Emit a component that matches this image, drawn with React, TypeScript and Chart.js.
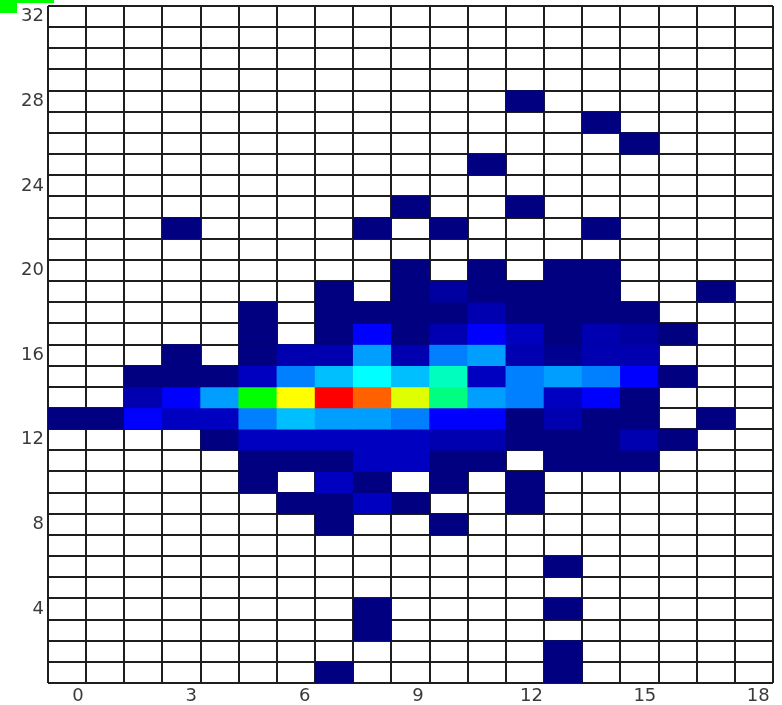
import React, { useEffect, useRef } from 'react';
import { Chart, registerables } from 'chart.js';

Chart.register(...registerables);

// x bins (19 columns) and y levels (32 rows, listed top to bottom)
const xBins = ['0', '1', '2', '3', '4', '5', '6', '7', '8', '9', '10', '11', '12', '13', '14', '15', '16', '17', '18'];
const rowLevels = [32, 31, 30, 29, 28, 27, 26, 25, 24, 23, 22, 21, 20, 19, 18, 17, 16, 15, 14, 13, 12, 11, 10, 9, 8, 7, 6, 5, 4, 3, 2, 1];

// axis tick labels
const xTickValues = [0, 3, 6, 9, 12, 15, 18];
const yTickValues = [4, 8, 12, 16, 20, 24, 28, 32];

// axis ranges
const X_MIN = -0.79;
const X_MAX = 18.39;
const Y_MIN = 0.5;
const Y_MAX = 32.5;
const VALUE_MAX = 41;

// cell values, one row per y level (same order as rowLevels), 19 columns each
const cellValues = [
  [0, 0, 0, 0, 0, 0, 0, 0, 0, 0, 0, 0, 0, 0, 0, 0, 0, 0, 0], // 32
  [0, 0, 0, 0, 0, 0, 0, 0, 0, 0, 0, 0, 0, 0, 0, 0, 0, 0, 0], // 31
  [0, 0, 0, 0, 0, 0, 0, 0, 0, 0, 0, 0, 0, 0, 0, 0, 0, 0, 0], // 30
  [0, 0, 0, 0, 0, 0, 0, 0, 0, 0, 0, 0, 0, 0, 0, 0, 0, 0, 0], // 29
  [0, 0, 0, 0, 0, 0, 0, 0, 0, 0, 0, 0, 1, 0, 0, 0, 0, 0, 0], // 28
  [0, 0, 0, 0, 0, 0, 0, 0, 0, 0, 0, 0, 0, 0, 1, 0, 0, 0, 0], // 27
  [0, 0, 0, 0, 0, 0, 0, 0, 0, 0, 0, 0, 0, 0, 0, 1, 0, 0, 0], // 26
  [0, 0, 0, 0, 0, 0, 0, 0, 0, 0, 0, 1, 0, 0, 0, 0, 0, 0, 0], // 25
  [0, 0, 0, 0, 0, 0, 0, 0, 0, 0, 0, 0, 0, 0, 0, 0, 0, 0, 0], // 24
  [0, 0, 0, 0, 0, 0, 0, 0, 0, 1, 0, 0, 1, 0, 0, 0, 0, 0, 0], // 23
  [0, 0, 0, 1, 0, 0, 0, 0, 1, 0, 1, 0, 0, 0, 1, 0, 0, 0, 0], // 22
  [0, 0, 0, 0, 0, 0, 0, 0, 0, 0, 0, 0, 0, 0, 0, 0, 0, 0, 0], // 21
  [0, 0, 0, 0, 0, 0, 0, 0, 0, 1, 0, 1, 0, 1, 1, 0, 0, 0, 0], // 20
  [0, 0, 0, 0, 0, 0, 0, 1, 0, 1, 3, 1, 1, 1, 1, 0, 0, 1, 0], // 19
  [0, 0, 0, 0, 0, 1, 0, 1, 1, 1, 1, 4, 1, 1, 1, 1, 0, 0, 0], // 18
  [0, 0, 0, 0, 0, 1, 0, 1, 9, 1, 4, 9, 5, 1, 4, 3, 1, 0, 0], // 17
  [0, 0, 0, 1, 0, 1, 4, 4, 14, 4, 13, 14, 4, 2, 4, 4, 0, 0, 0], // 16
  [0, 0, 1, 1, 1, 5, 13, 15, 17, 15, 19, 5, 13, 14, 13, 9, 1, 0, 0], // 15
  [0, 0, 4, 9, 14, 25, 33, 41, 38, 32, 21, 14, 13, 5, 9, 1, 0, 0, 0], // 14
  [1, 1, 9, 5, 5, 13, 15, 14, 14, 13, 9, 9, 1, 4, 1, 1, 0, 1, 0], // 13
  [0, 0, 0, 0, 1, 5, 5, 5, 5, 5, 4, 4, 1, 1, 1, 4, 1, 0, 0], // 12
  [0, 0, 0, 0, 0, 1, 1, 1, 5, 5, 1, 1, 0, 1, 1, 1, 0, 0, 0], // 11
  [0, 0, 0, 0, 0, 1, 0, 5, 1, 0, 1, 0, 1, 0, 0, 0, 0, 0, 0], // 10
  [0, 0, 0, 0, 0, 0, 1, 1, 5, 1, 0, 0, 1, 0, 0, 0, 0, 0, 0], // 9
  [0, 0, 0, 0, 0, 0, 0, 1, 0, 0, 1, 0, 0, 0, 0, 0, 0, 0, 0], // 8
  [0, 0, 0, 0, 0, 0, 0, 0, 0, 0, 0, 0, 0, 0, 0, 0, 0, 0, 0], // 7
  [0, 0, 0, 0, 0, 0, 0, 0, 0, 0, 0, 0, 0, 1, 0, 0, 0, 0, 0], // 6
  [0, 0, 0, 0, 0, 0, 0, 0, 0, 0, 0, 0, 0, 0, 0, 0, 0, 0, 0], // 5
  [0, 0, 0, 0, 0, 0, 0, 0, 1, 0, 0, 0, 0, 1, 0, 0, 0, 0, 0], // 4
  [0, 0, 0, 0, 0, 0, 0, 0, 1, 0, 0, 0, 0, 0, 0, 0, 0, 0, 0], // 3
  [0, 0, 0, 0, 0, 0, 0, 0, 0, 0, 0, 0, 0, 1, 0, 0, 0, 0, 0], // 2
  [0, 0, 0, 0, 0, 0, 0, 1, 0, 0, 0, 0, 0, 1, 0, 0, 0, 0, 0], // 1
];

// colour map stops (navy -> blue -> cyan -> green -> yellow -> red)
const colorStops: [number, number, number, number][] = [
  [0.0, 0, 0, 128],
  [0.2, 0, 0, 255],
  [0.4, 0, 255, 255],
  [0.6, 0, 255, 0],
  [0.8, 255, 255, 0],
  [1.0, 255, 0, 0],
];

function colorFor(v: number): string {
  const t = Math.max(0, Math.min(1, (v - 1) / (VALUE_MAX - 1)));
  for (let i = 1; i < colorStops.length; i++) {
    const a = colorStops[i - 1];
    const b = colorStops[i];
    if (t <= b[0]) {
      const f = (t - a[0]) / (b[0] - a[0]);
      const r = Math.round(a[1] + (b[1] - a[1]) * f);
      const g = Math.round(a[2] + (b[2] - a[2]) * f);
      const bl = Math.round(a[3] + (b[3] - a[3]) * f);
      return `rgb(${r},${g},${bl})`;
    }
  }
  return 'rgb(255,0,0)';
}

const GRID_COLOR = '#1e1e1e';
const LABEL_FONT = { family: 'DejaVu Sans', size: 18 };
const LABEL_COLOR = '#3a3a3a';

export default function App() {
  const canvasRef = useRef<HTMLCanvasElement | null>(null);

  useEffect(() => {
    const canvas = canvasRef.current;
    if (!canvas) return;

    const datasets = rowLevels.map((level, i) => {
      const pts: any[] = [];
      const colors: string[] = [];
      cellValues[i].forEach((v, c) => {
        if (v > 0) {
          pts.push({ x: xBins[c], y: [level - 0.5, level + 0.5] });
          colors.push(colorFor(v));
        }
      });
      return {
        type: 'bar' as const,
        label: String(level),
        data: pts,
        backgroundColor: colors,
        borderWidth: 0,
        grouped: false,
        barPercentage: 1,
        categoryPercentage: 1,
        xAxisID: 'xc',
        yAxisID: 'y',
      };
    });

    const chart = new Chart(canvas, {
      type: 'bar',
      data: { labels: xBins, datasets: datasets as any },
      options: {
        animation: false,
        responsive: false,
        maintainAspectRatio: false,
        devicePixelRatio: 1,
        layout: { padding: { top: 6, right: 9, left: 0, bottom: 0 }, autoPadding: false },
        plugins: { legend: { display: false }, tooltip: { enabled: false } },
        scales: {
          xc: {
            type: 'category',
            position: 'bottom',
            offset: true,
            z: 1,
            grid: { offset: true, color: GRID_COLOR, lineWidth: 2, drawTicks: false },
            border: { display: false },
            ticks: { display: false, autoSkip: false },
            afterFit: (s: any) => { s.height = 0; s.paddingLeft = 0; s.paddingRight = 0; },
          },
          xl: {
            type: 'linear',
            position: 'bottom',
            min: X_MIN,
            max: X_MAX,
            offset: false,
            grid: { display: false, drawTicks: false, offset: false },
            border: { display: false },
            ticks: { font: LABEL_FONT, color: LABEL_COLOR, padding: 3, autoSkip: false, maxRotation: 0 },
            afterBuildTicks: (s: any) => { s.ticks = xTickValues.map((v) => ({ value: v })); },
            afterFit: (s: any) => { s.height = 22; s.paddingLeft = 0; s.paddingRight = 0; },
          },
          y: {
            type: 'linear',
            position: 'left',
            min: Y_MIN,
            max: Y_MAX,
            offset: false,
            z: 1,
            grid: { color: GRID_COLOR, lineWidth: 2, drawTicks: false },
            border: { display: false },
            ticks: { display: false },
            afterBuildTicks: (s: any) => {
              const edges = rowLevels.map((l) => l - 0.5).concat([Y_MAX]).sort((a, b) => a - b);
              s.ticks = edges.map((v) => ({ value: v }));
            },
            afterFit: (s: any) => { s.width = 0; s.paddingTop = 0; s.paddingBottom = 0; },
          },
          yl: {
            type: 'linear',
            position: 'left',
            min: Y_MIN,
            max: Y_MAX,
            offset: false,
            grid: { display: false, drawTicks: false },
            border: { display: false },
            ticks: { font: LABEL_FONT, color: LABEL_COLOR, padding: 4 },
            afterBuildTicks: (s: any) => { s.ticks = yTickValues.map((v) => ({ value: v })); },
            afterFit: (s: any) => { s.width = 48; s.paddingTop = 0; s.paddingBottom = 0; },
          },
        },
      } as any,
    });

    return () => chart.destroy();
  }, []);

  return (
    <div style={{ position: 'fixed', left: 0, top: 0, width: 782, height: 705, background: '#ffffff' }}>
      <canvas ref={canvasRef} width={782} height={705} style={{ display: 'block', width: 782, height: 705 }} />
      <div style={{ position: 'absolute', left: 0, top: 0, width: 54, height: 3, background: '#00ff00' }} />
      <div style={{ position: 'absolute', left: 0, top: 0, width: 17, height: 13, background: '#00ff00' }} />
    </div>
  );
}
